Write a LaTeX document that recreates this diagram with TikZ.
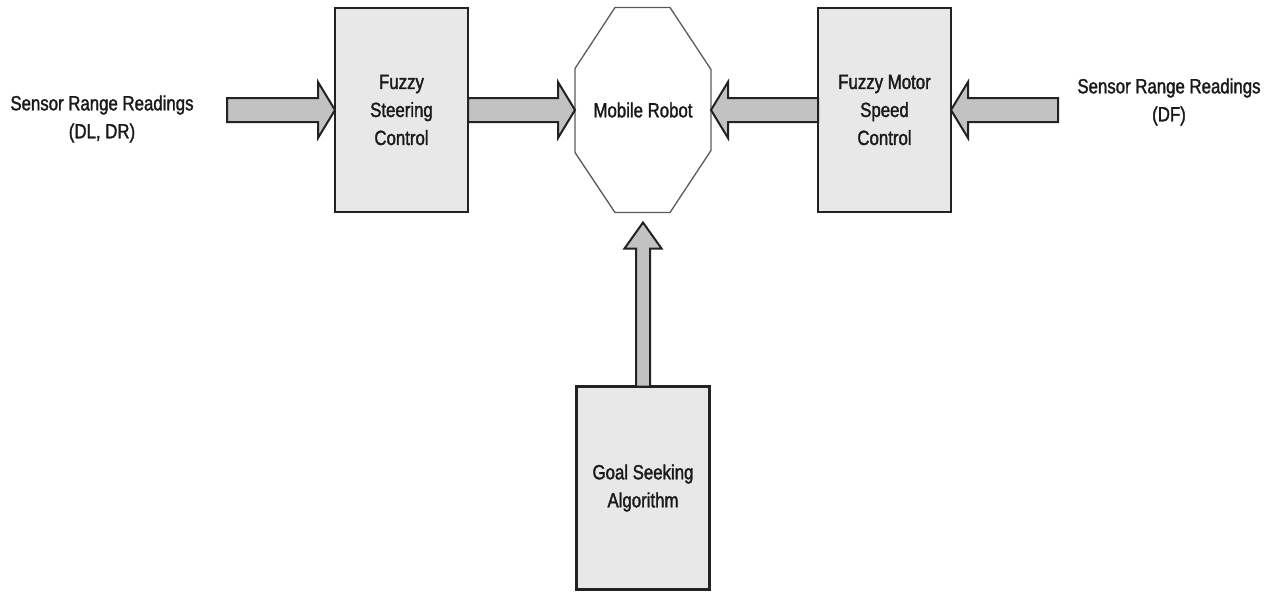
\documentclass[tikz,border=0pt]{standalone}
\usepackage{fontspec}
\setmainfont{Liberation Sans}[FakeStretch=0.82, FakeBold=1.6]
\usetikzlibrary{calc}
\definecolor{boxfill}{HTML}{E8E8E8}
\definecolor{arrowfill}{HTML}{C2C2C2}
\definecolor{edgec}{HTML}{222222}
\definecolor{octc}{HTML}{5A5A5A}
\definecolor{txtc}{HTML}{1A1A1A}
% from, to, shaft half width, head half width, head length
\newcommand\fatarrow[5]{%
  \path coordinate (fa-h) at ($(#2)!#5!(#1)$);
  \draw[fatarrowstyle] ($(#1)!#3!90:(#2)$) -- ($(fa-h)!#3!90:(#2)$) -- ($(fa-h)!#4!90:(#2)$) -- (#2)
    -- ($(fa-h)!#4!-90:(#2)$) -- ($(fa-h)!#3!-90:(#2)$) -- ($(#1)!#3!-90:(#2)$) -- cycle;
}
\begin{document}
\begin{tikzpicture}[x=1pt,y=-1pt,
  lbl/.style={align=center, inner sep=0pt, text=txtc, font=\fontsize{20.5pt}{28pt}\selectfont},
  blockbox/.style={lbl, draw=edgec, fill=boxfill, line width=2.5pt, minimum width=133pt, minimum height=204pt, outer sep=0pt},
  octframe/.style={draw=octc, line width=1.3pt, line join=miter},
  fatarrowstyle/.style={draw=edgec, fill=arrowfill, line width=2pt, line join=miter}]
\useasboundingbox (0,0) rectangle (1270,592);

\node[blockbox] (fsc) at (401.5,110) {Fuzzy\\Steering\\Control};
\node[blockbox] (fmsc) at (884.5,110) {Fuzzy Motor\\Speed\\Control};
\node[blockbox, minimum height=203pt] (goal) at (643,488) {Goal Seeking\\Algorithm};

\node[minimum width=136pt, minimum height=205pt, inner sep=0pt, outer sep=0pt] (robot) at (643,110) {};
\draw[octframe] ($(robot.north west)+(40,0)$) -- ($(robot.north east)+(-41,0)$)
  -- ($(robot.north east)+(0,62)$) -- ($(robot.south east)+(0,-62)$)
  -- ($(robot.south east)+(-41,0)$) -- ($(robot.south west)+(40,0)$)
  -- ($(robot.south west)+(0,-60)$) -- ($(robot.north west)+(0,61)$) -- cycle;
\node[lbl] (robotlabel) at (robot.center) {Mobile Robot};

\node[lbl] (inL) at (102,119) {Sensor Range Readings\\(DL, DR)};
\node[lbl] (inR) at (1169,102) {Sensor Range Readings\\(DF)};

\coordinate (a1) at (227,110);
\coordinate (a4) at (1058,110);
\coordinate (a5) at ($(robot.south)+(0,10)$);

\fatarrow{a1}{fsc.west}{12pt}{28pt}{17pt}
\fatarrow{fsc.east}{robot.west}{12pt}{28pt}{17pt}
\fatarrow{fmsc.west}{robot.east}{12pt}{28pt}{17pt}
\fatarrow{a4}{fmsc.east}{12pt}{28pt}{17pt}
\fatarrow{goal.north}{a5}{7pt}{18.5pt}{26pt}
\end{tikzpicture}
\end{document}
